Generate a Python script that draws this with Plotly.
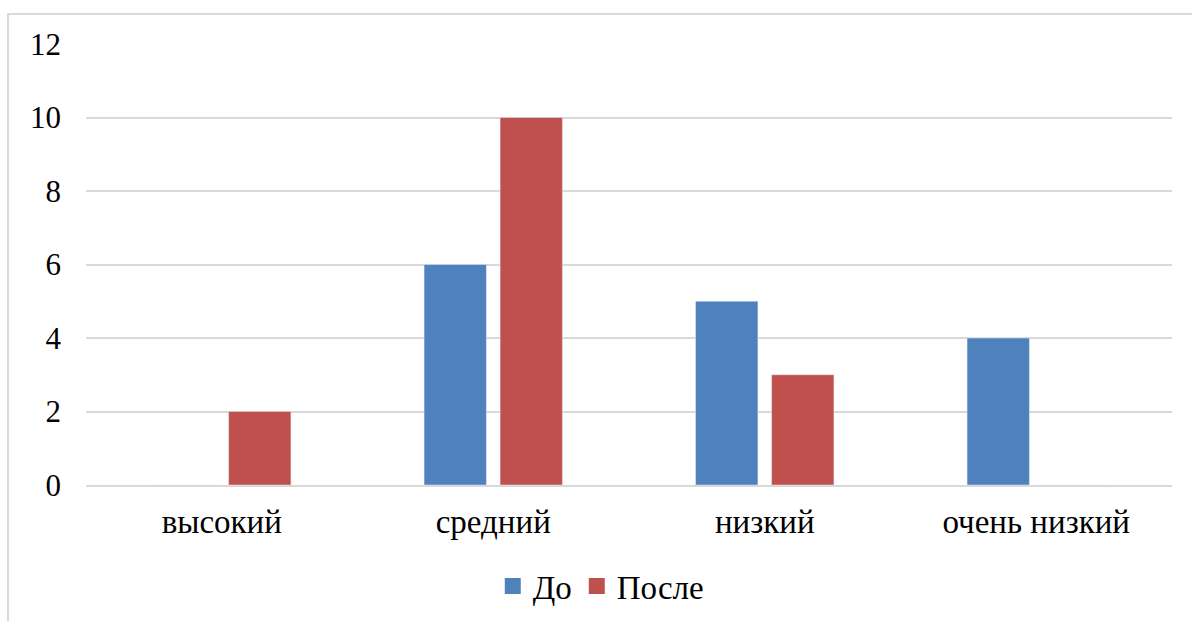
import plotly.graph_objects as go

categories = ["высокий", "средний", "низкий", "очень низкий"]
do_values = [0, 6, 5, 4]
posle_values = [2, 10, 3, 0]
y_ticks = [0, 2, 4, 6, 8, 10, 12]

FONT = "Liberation Serif, Times New Roman, serif"
BLUE = "#4F81BD"
RED = "#C0504D"

fig = go.Figure()
fig.add_trace(go.Bar(name="До", x=categories, y=do_values, marker_color=BLUE, showlegend=False))
fig.add_trace(go.Bar(name="После", x=categories, y=posle_values, marker_color=RED, showlegend=False))
# legend entries with larger square swatches
fig.add_trace(go.Scatter(name="До", x=[None], y=[None], mode="markers",
                         marker=dict(symbol="square", size=20, color=BLUE)))
fig.add_trace(go.Scatter(name="После", x=[None], y=[None], mode="markers",
                         marker=dict(symbol="square", size=20, color=RED)))

fig.update_layout(
    width=1192, height=621,
    margin=dict(l=86, r=20, t=44, b=136, autoexpand=False),
    paper_bgcolor="white", plot_bgcolor="white",
    barmode="group", bargap=0.44, bargroupgap=0.18,
    font=dict(family=FONT, size=33, color="#000000"),
    showlegend=True,
    legend=dict(orientation="h", x=0.474, xanchor="center", y=-0.229, yanchor="middle",
                font=dict(family=FONT, size=33), itemwidth=30, tracegroupgap=0),
    shapes=[dict(type="rect", xref="paper", yref="paper", x0=-0.0718, x1=1.03, y0=-0.33, y1=1.068,
                 line=dict(color="#d9d9d9", width=2), layer="below")],
)
fig.update_yaxes(range=[0, 12], tickvals=y_ticks, showgrid=True, gridcolor="#d9d9d9", gridwidth=2,
                 zeroline=False, showline=False, ticks="", ticklabelstandoff=24,
                 tickfont=dict(family=FONT, size=31))
fig.update_xaxes(showline=True, linecolor="#d9d9d9", linewidth=2, ticks="", ticklabelstandoff=6,
                 tickfont=dict(family=FONT, size=33))

fig.write_html("out.html", config={"displayModeBar": False},
               post_script="document.body.style.margin='0';document.body.style.overflow='hidden';")
